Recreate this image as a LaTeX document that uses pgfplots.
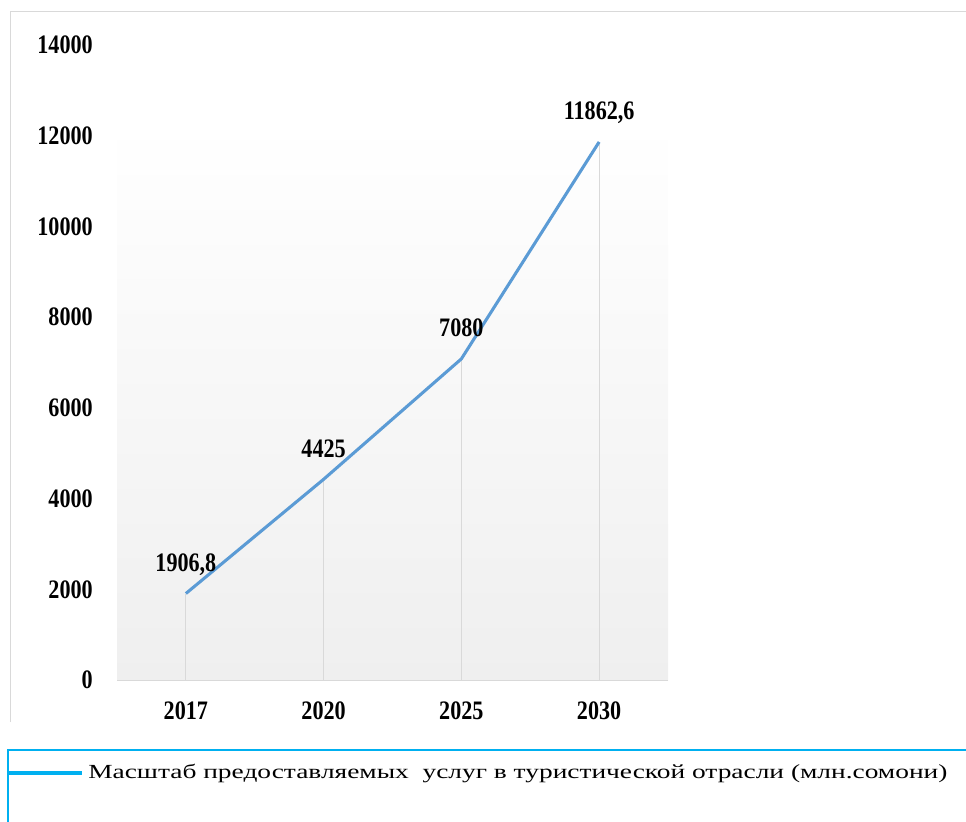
\documentclass[border=0pt]{standalone}
\usepackage{pgfplots}
\pgfplotsset{compat=1.18}
\usepackage{pgfplotstable}
\usepackage{fontspec}
\setmainfont{Liberation Serif}
\newfontfamily\numfont[FakeStretch=0.83]{Liberation Serif}
\newfontfamily\legfont[FakeStretch=1.37]{Liberation Serif}
\definecolor{linecol}{HTML}{5B9BD5}
\definecolor{legcol}{HTML}{00B0F0}
\definecolor{gridcol}{HTML}{D9D9D9}
\definecolor{bgbot}{HTML}{EFEFEF}

\pgfplotstableread{
x y label
0 1906.8 {1906,8}
1 4425 4425
2 7080 7080
3 11862.6 {11862,6}
}\datatable

\begin{document}
\begin{tikzpicture}
\path[use as bounding box] (0,0) rectangle (724.5pt,615.75pt);
\draw[gridcol, line width=0.75pt] (7.5pt,74.25pt) -- (7.5pt,606.75pt) -- (730pt,606.75pt);
\begin{axis}[
  scale only axis, width=413.25pt, height=476.25pt,
  at={(87.75pt,105.75pt)}, anchor=south west,
  xmin=-0.5, xmax=3.5, ymin=0, ymax=14000,
  xtick={0,1,2,3}, xticklabels={2017,2020,2025,2030},
  ytick={0,2000,...,14000},
  scaled y ticks=false,
  axis on top,
  axis lines*=left,
  x axis line style={draw=gridcol,-,line width=0.75pt},
  y axis line style={draw=none},
  major tick length=0pt,
  /pgf/number format/assume math mode=true,
  /pgf/number format/1000 sep={},
  ticklabel style={font=\numfont\bfseries\fontsize{20}{24}\selectfont, inner sep=0pt},
  yticklabel style={anchor=east, xshift=-18pt},
  xticklabel style={anchor=north, yshift=-15.75pt},
  clip=false,
]
\fill[top color=white, bottom color=bgbot] (axis cs:-0.5,0) rectangle (axis cs:3.5,12300);
\addplot[gridcol, line width=0.75pt, ycomb, no markers] table[x=x,y=y] {\datatable};
\addplot[linecol, line width=2.3pt, no markers, nodes near coords, point meta=explicit symbolic,
  nodes near coords style={font=\numfont\bfseries\fontsize{20}{24}\selectfont, anchor=base, inner sep=0pt, yshift=16.5pt, text=black}]
  table[x=x,y=y,meta=label] {\datatable};
\end{axis}
\draw[legcol, line width=1.1pt] (6pt,-5pt) rectangle (730pt,53.25pt);
\draw[legcol, line width=3pt] (6pt,36pt) -- (61.5pt,36pt);
\node[anchor=west, inner sep=0pt, font=\legfont\fontsize{15}{18}\selectfont] at (66pt,36pt) {Масштаб предоставляемых\ \ услуг в туристической отрасли (млн.сомони)};
\end{tikzpicture}
\end{document}
